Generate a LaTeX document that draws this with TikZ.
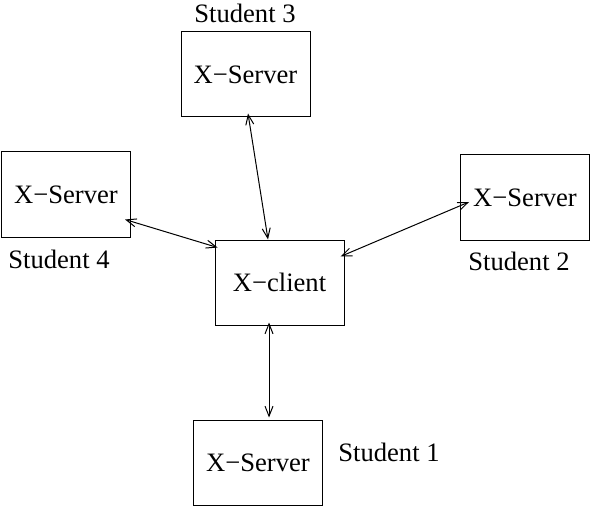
\documentclass[tikz,border=0pt]{standalone}
\usepackage{fontspec}
\setmainfont{Liberation Serif}
\usetikzlibrary{arrows.meta,calc}

\begin{document}
\begin{tikzpicture}[x=0.5pt,y=-0.5pt,line width=0.5pt,>={Straight Barb[length=5pt,width=4pt]},every node/.style={font=\fontsize{13.3}{16}\selectfont},hostbox/.style={draw,minimum width=64.5pt,minimum height=42.5pt,inner sep=0pt},studentlabel/.style={inner sep=0pt}]
\useasboundingbox (0,0) rectangle (592,507);

\node[hostbox] (client) at (279.5,282.5) {X−client};
\node[hostbox] (s1) at (258,462.5) {X−Server};
\node[hostbox] (s2) at (525,197.5) {X−Server};
\node[hostbox] (s3) at (245.5,74.5) {X−Server};
\node[hostbox] (s4) at (66,194.5) {X−Server};

\node[studentlabel] (l1) at (389,452) {Student 1};
\node[studentlabel] (l2) at (519,261) {Student 2};
\node[studentlabel] (l3) at (245,13) {Student 3};
\node[studentlabel] (l4) at (59,259) {Student 4};

\draw[<->] ($(s3.south)+(2.5,-4)$) -- ($(client.north)+(-11.5,0)$);
\draw[<->] ($(s4.south east)+(-6,-18)$) -- ($(client.north west)+(3,8)$);
\draw[<->] ($(client.north east)+(-4,17)$) -- ($(s2.west)+(9,4.5)$);
\draw[<->] ($(client.south)+(-10.5,-3)$) -- ($(s1.north)+(11,-2)$);
\end{tikzpicture}
\end{document}
